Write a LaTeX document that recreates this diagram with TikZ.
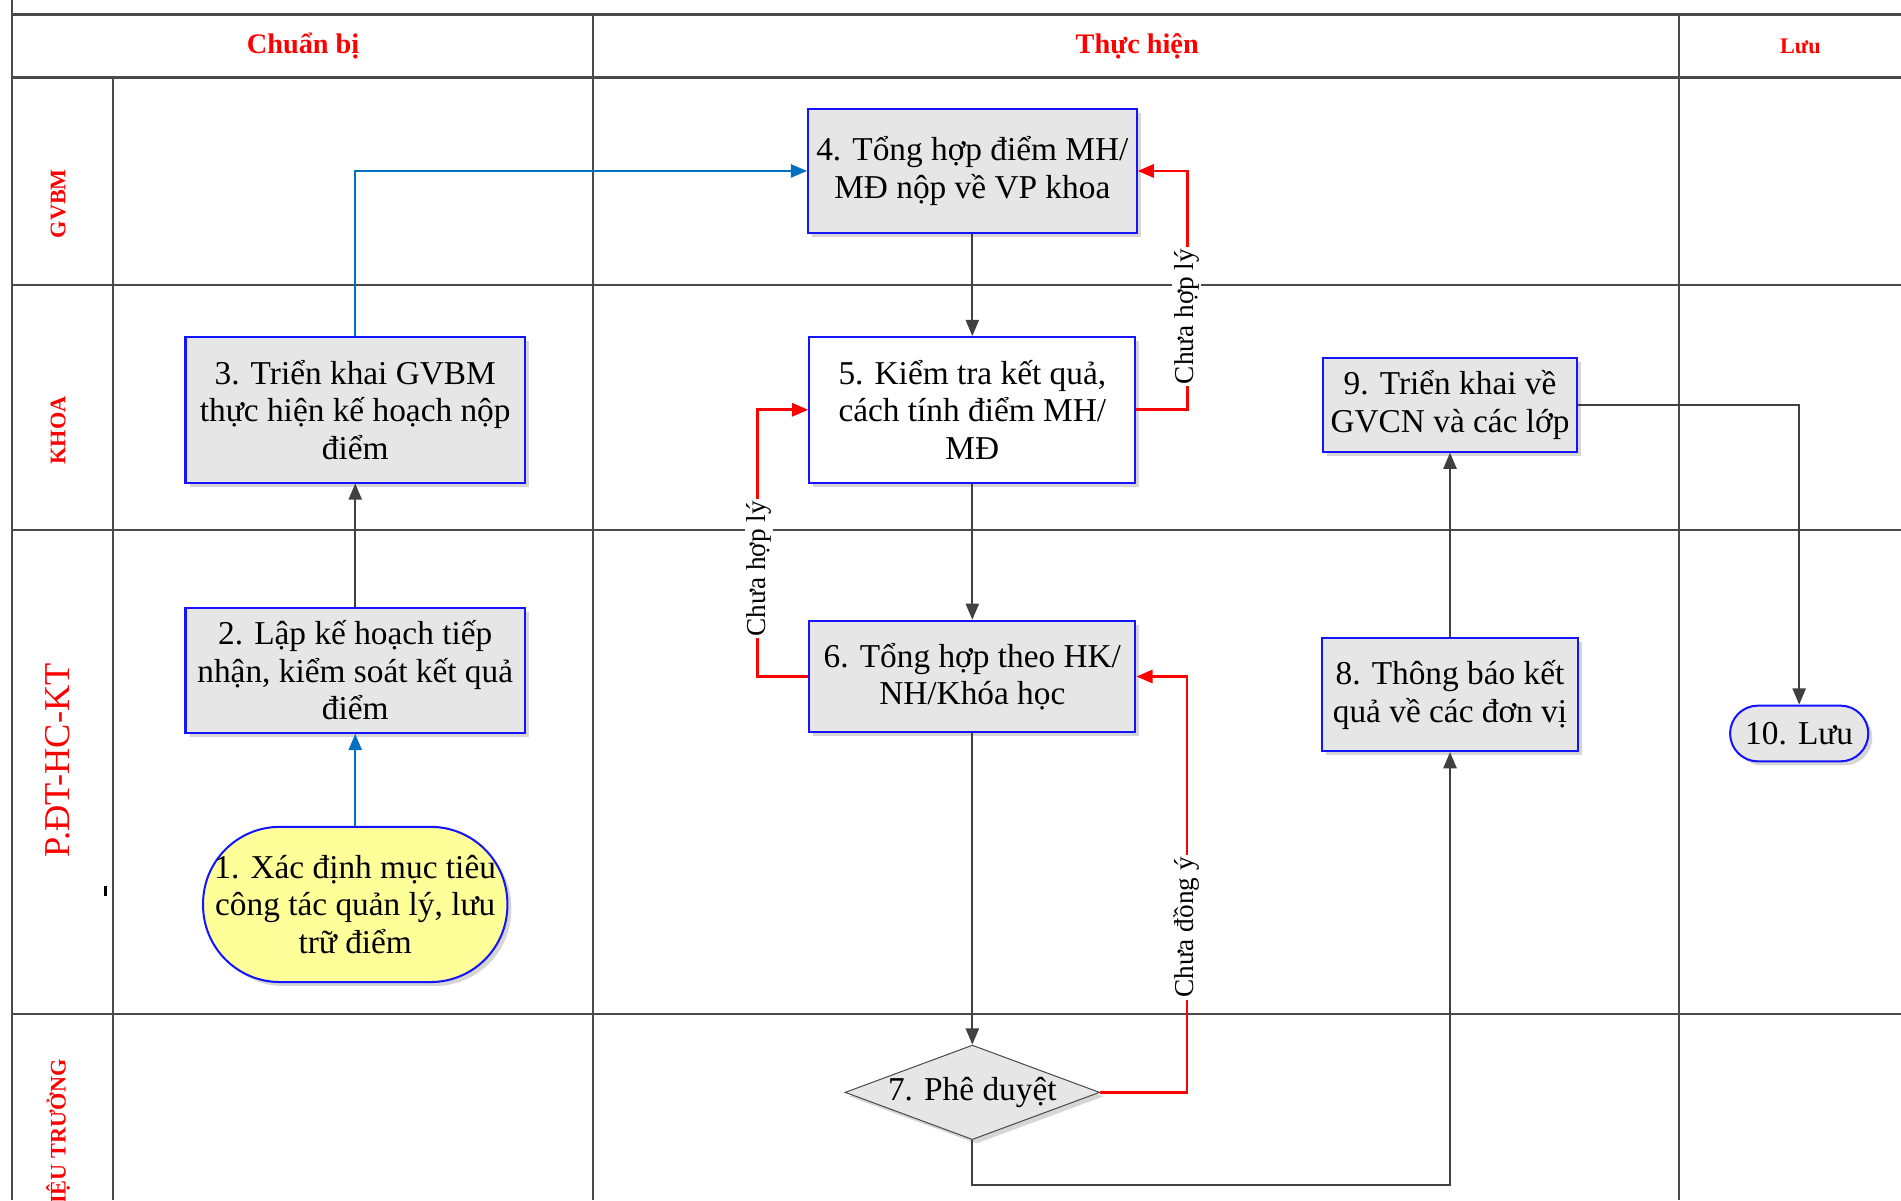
\documentclass[tikz,border=0pt]{standalone}
\usepackage{fontspec}
\setmainfont{Liberation Serif}
\usetikzlibrary{shapes.geometric,shadows,arrows.meta}
\definecolor{gridc}{HTML}{4A4A4A}
\definecolor{boxblue}{HTML}{1414FF}
\definecolor{boxgray}{HTML}{E6E6E6}
\definecolor{termyellow}{HTML}{FFFF99}
\definecolor{linkblue}{HTML}{0070C0}
\definecolor{linkred}{HTML}{FF0000}
\definecolor{linkdark}{HTML}{404040}
\definecolor{hdrred}{HTML}{FF0000}
\begin{document}
\begin{tikzpicture}[x=0.6pt,y=-0.6pt,
  grid/.style={draw=gridc,line width=1pt},
  gridthick/.style={draw=gridc,line width=1.4pt},
  shade/.style={drop shadow={shadow xshift=2pt,shadow yshift=-2pt,fill=black!16,opacity=1}},
  stepbox/.style={draw=boxblue,line width=1pt,fill=boxgray,align=center,
    font=\fontsize{16.5}{18.6}\selectfont,inner sep=1pt,shade},
  termbox/.style={stepbox,rounded corners=#1},
  decbox/.style={diamond,draw=gridc,line width=0.5pt,fill=boxgray,align=center,
    font=\fontsize{16.5}{18.6}\selectfont,inner sep=0pt,shape aspect=2.69,shade},
  hdr/.style={text=hdrred,font=\bfseries\fontsize{14}{16}\selectfont},
  lane/.style={text=hdrred,rotate=90,font=\bfseries\fontsize{11}{12}\selectfont},
  darrow/.style={draw=linkdark,line width=1pt,-{Triangle[length=8pt,width=6.5pt]}},
  barrow/.style={draw=linkblue,line width=1pt,-{Triangle[length=8pt,width=6.5pt]}},
  rarrow/.style={draw=linkred,line width=1.3pt,-{Triangle[length=8pt,width=6.5pt]}},
  lbl/.style={fill=white,rotate=90,inner sep=1pt,font=\fontsize{13.5}{15}\selectfont}
]
\useasboundingbox (0,0) rectangle (1568,990);
\clip (0,0) rectangle (1568,990);
% grid
\draw[grid] (10,0) -- (10,990);
\draw[gridthick] (10,12) -- (1568,12);
\draw[gridthick] (10,64) -- (1568,64);
\draw[grid] (10,235) -- (1568,235);
\draw[grid] (10,437) -- (1568,437);
\draw[grid] (10,836) -- (1568,836);
\draw[grid] (93,64) -- (93,990);
\draw[grid] (489,12) -- (489,990);
\draw[grid] (1385,12) -- (1385,990);
\draw[line width=1.2pt] (87,731) -- (87,739);
% headers
\node[hdr] (hprep) at (250,38) {Chuẩn bị};
\node[hdr] (hexec) at (938,38) {Thực hiện};
\node[hdr,font=\bfseries\fontsize{11}{13}\selectfont] (hsave) at (1485,38) {Lưu};
% lanes
\node[lane] (lgvbm) at (48,168) {GVBM};
\node[lane] (lkhoa) at (48,355) {KHOA};
\node[lane,font=\fontsize{18}{20}\selectfont] (lpdt) at (48,627) {P.ĐT-HC-KT};
\node[lane,anchor=east] (lht) at (48,868) {HIỆU TRƯỞNG};
% nodes
\node[termbox=38pt,fill=termyellow,minimum width=150.6pt,minimum height=76.8pt] (n1) at (293,746)
  {1. Xác định mục tiêu\\công tác quản lý, lưu\\trữ điểm};
\node[stepbox,minimum width=168pt,minimum height=61.8pt] (n2) at (293,553)
  {2. Lập kế hoạch tiếp\\nhận, kiểm soát kết quả\\điểm};
\node[stepbox,minimum width=168pt,minimum height=72pt] (n3) at (293,338)
  {3. Triển khai GVBM\\thực hiện kế hoạch nộp\\điểm};
\node[stepbox,minimum width=162.6pt,minimum height=61.2pt] (n4) at (802,141)
  {4. Tổng hợp điểm MH/\\MĐ nộp về VP khoa};
\node[stepbox,fill=white,minimum width=161.4pt,minimum height=72pt] (n5) at (802,338)
  {5. Kiểm tra kết quả,\\cách tính điểm MH/\\MĐ};
\node[stepbox,minimum width=161.4pt,minimum height=55.2pt] (n6) at (802,558)
  {6. Tổng hợp theo HK/\\NH/Khóa học};
\node[decbox,minimum width=126pt,minimum height=46.8pt] (n7) at (802,901) {7. Phê duyệt};
\node[stepbox,minimum width=126.6pt,minimum height=55.8pt] (n8) at (1196,573)
  {8. Thông báo kết\\quả về các đơn vị};
\node[stepbox,minimum width=126pt,minimum height=46.2pt] (n9) at (1196,334)
  {9. Triển khai về\\GVCN và các lớp};
\node[termbox=13.8pt,minimum width=68.4pt,minimum height=27.6pt] (n10) at (1484,605) {10. Lưu};
% connectors
\draw[barrow] (n1.north) -- (n2.south);
\draw[darrow] (n2.north) -- (n3.south);
\draw[barrow] (n3.north) |- (n4.west);
\draw[darrow] (n4.south) -- (n5.north);
\draw[darrow] (n5.south) -- (n6.north);
\draw[darrow] (n6.south) -- (n7.north);
\draw[darrow] (n7.south) -- ++(0,37) -| (n8.south);
\draw[darrow] (n8.north) -- (n9.south);
\draw[darrow] (n9.east) -| (n10.north);
\draw[rarrow] (n5.east) -- ++(42,0) |- (n4.east);
\draw[rarrow] (n6.west) -- ++(-42,0) |- (n5.west);
\draw[rarrow] (n7.east) -- (979,901) |- (n6.east);
% labels
\node[lbl] (l1) at (979,261) {Chưa hợp lý};
\node[lbl] (l2) at (626,469) {Chưa hợp lý};
\node[lbl] (l3) at (979,765) {Chưa đồng ý};
\end{tikzpicture}
\end{document}
